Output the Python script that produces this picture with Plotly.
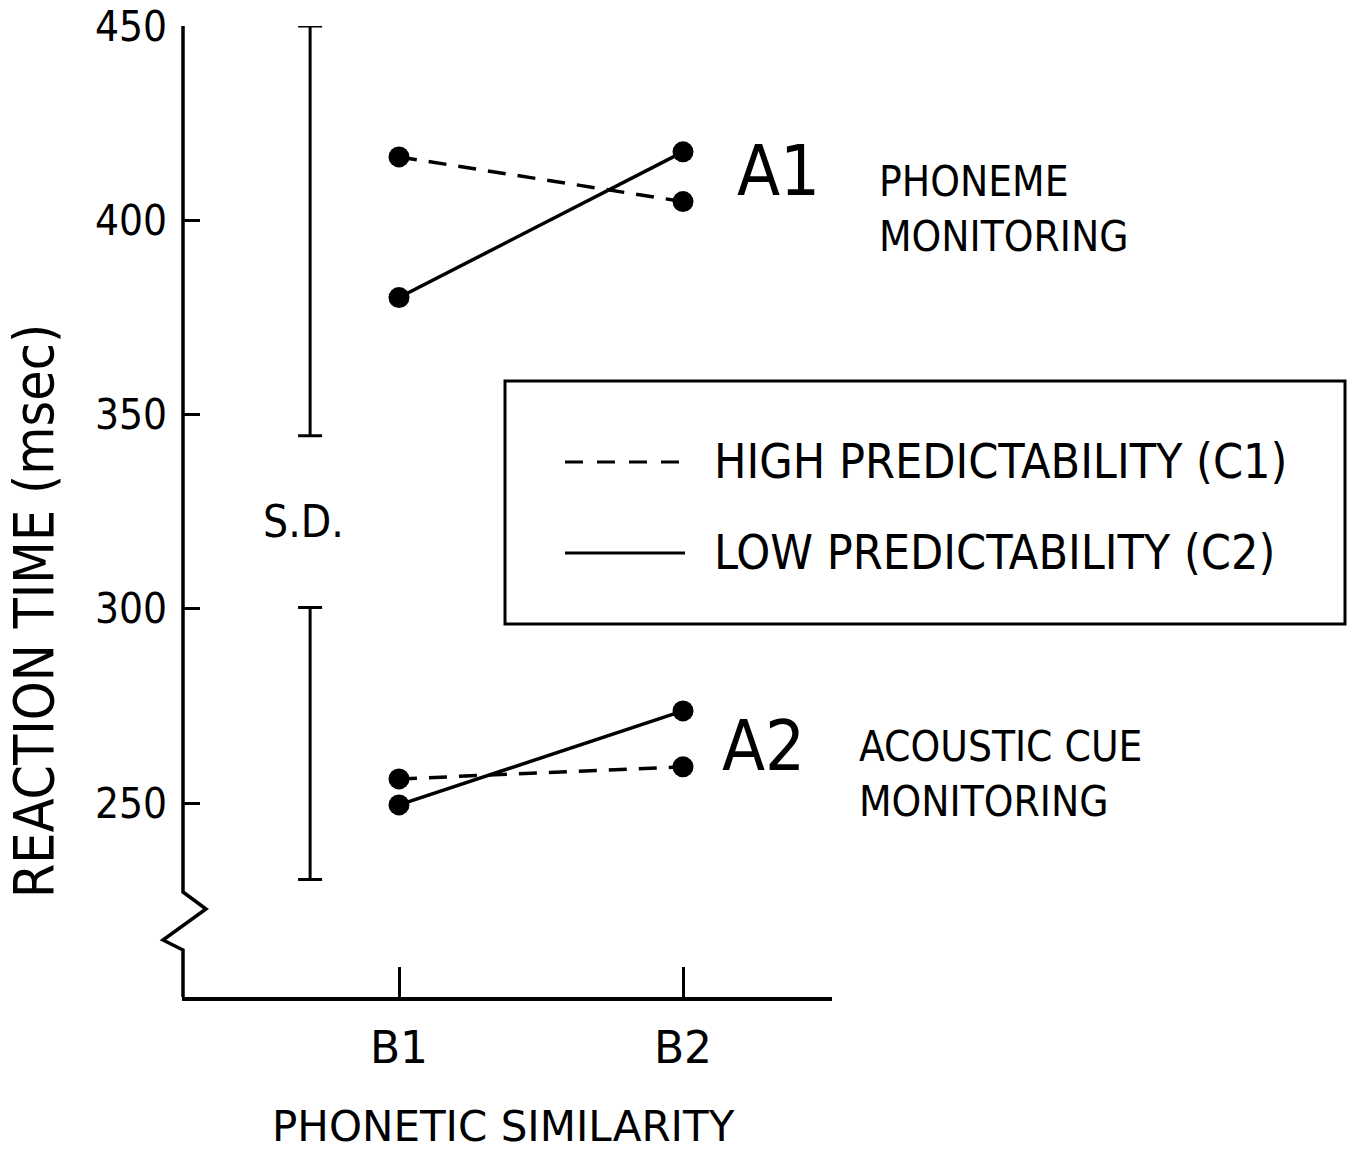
import plotly.graph_objects as go

# ---- data ----
similarity = ["B1", "B2"]
x_pos = [1, 2]
a1_high = [416.3, 404.8]   # phoneme monitoring, high predictability (C1)
a1_low = [380.1, 417.6]    # phoneme monitoring, low predictability (C2)
a2_high = [256.2, 259.3]   # acoustic cue monitoring, high predictability
a2_low = [249.5, 273.7]    # acoustic cue monitoring, low predictability
sd_low = [344.5, 230.3]
sd_high = [450.0, 300.3]
sd_x = [0.687, 0.687]
y_ticks = [250, 300, 350, 400, 450]

W, H = 1352, 1155
L, R, T, B = 182, 520, 26, 158
PW, PH = W - L - R, H - T - B
FONT = "Liberation Sans Narrow, DejaVu Sans Condensed, Liberation Sans, sans-serif"
WIDE = "DejaVu Sans, sans-serif"
DY = -1  # text vertical nudge


def px(x):
    return (x - L) / PW


def py(y):
    return (H - B - y) / PH


fig = go.Figure()

line_w = 3.5
msize = 21
for ys, dash in [(a1_high, "18px,12px"), (a1_low, "solid"), (a2_high, "18px,12px"), (a2_low, "solid")]:
    fig.add_trace(go.Scatter(
        x=x_pos, y=ys, mode="lines+markers",
        line=dict(color="black", width=line_w, dash=dash),
        marker=dict(color="black", size=msize),
        showlegend=False, hoverinfo="skip"))

# S.D. bars
sd_mid = [(a + b) / 2 for a, b in zip(sd_low, sd_high)]
sd_half = [(b - a) / 2 for a, b in zip(sd_low, sd_high)]
fig.add_trace(go.Scatter(
    x=sd_x, y=sd_mid, mode="markers",
    marker=dict(size=1, color="rgba(0,0,0,0)"),
    error_y=dict(type="data", array=sd_half, arrayminus=sd_half,
                 color="black", thickness=3, width=12),
    showlegend=False, hoverinfo="skip"))

shapes = []
# y-axis with break
pts = [(183, 26), (183, 892), (206, 909), (163, 940), (183, 950), (183, 997)]
path = "M " + " L ".join(f"{px(a)},{py(b)}" for a, b in pts)
shapes.append(dict(type="path", path=path, xref="paper", yref="paper",
                   line=dict(color="black", width=3.5)))
# legend box
shapes.append(dict(type="rect", xref="paper", yref="paper",
                   x0=px(505), x1=px(1345), y0=py(624), y1=py(381),
                   line=dict(color="black", width=3)))
shapes.append(dict(type="line", xref="paper", yref="paper",
                   x0=px(565), x1=px(685), y0=py(462), y1=py(462),
                   line=dict(color="black", width=3, dash="18px,14px")))
shapes.append(dict(type="line", xref="paper", yref="paper",
                   x0=px(565), x1=px(685), y0=py(553), y1=py(553),
                   line=dict(color="black", width=3)))

ann = []


def text(t, x, y, size, xanchor="left", angle=0, family=FONT):
    ann.append(dict(text=t, x=px(x), y=py(y + DY), xref="paper", yref="paper",
                    showarrow=False, xanchor=xanchor, yanchor="middle", align="left",
                    textangle=angle, font=dict(family=family, size=size, color="black")))


text("HIGH PREDICTABILITY (C1)", 712, 462, 48)
text("LOW PREDICTABILITY (C2)", 712, 553, 48)
text("A1", 735, 172, 70)
text("A2", 720, 747, 70)
text("PHONEME<br>MONITORING", 877, 210, 42)
text("ACOUSTIC CUE<br>MONITORING", 857, 775, 42)
text("S.D.", 303, 522, 44, xanchor="center")
text("PHONETIC SIMILARITY", 503, 1127, 42, xanchor="center", family=WIDE)
text("REACTION TIME (msec)", 34, 612, 55, xanchor="center", angle=-90)

fig.update_layout(
    width=W, height=H,
    margin=dict(l=L, r=R, t=T, b=B, autoexpand=False),
    paper_bgcolor="white", plot_bgcolor="white",
    shapes=shapes, annotations=ann,
    xaxis=dict(range=[1 - (399 - 182) / 284, 2 + (832 - 683) / 284],
               tickvals=x_pos, ticktext=similarity,
               ticks="inside", ticklen=30, tickwidth=3, tickcolor="black",
               showline=True, linecolor="black", linewidth=3.5,
               showgrid=False, zeroline=False, automargin=False,
               tickfont=dict(family=WIDE, size=44, color="black"),
               ticklabelstandoff=9),
    yaxis=dict(range=[450 - (997 - 26) / 3.885, 450],
               tickvals=y_ticks, ticktext=[str(v) for v in y_ticks],
               ticks="inside", ticklen=18, tickwidth=3, tickcolor="black",
               showline=False, showgrid=False, zeroline=False, automargin=False,
               tickfont=dict(family=FONT, size=42, color="black"),
               ticklabelstandoff=14),
)

fig.write_html("out.html")
